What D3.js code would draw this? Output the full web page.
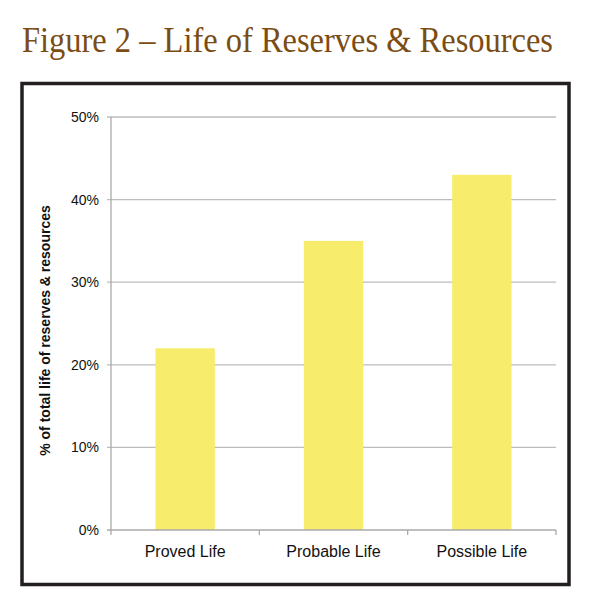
<!DOCTYPE html>
<html>
<head>
<meta charset="utf-8">
<script src="https://cdn.jsdelivr.net/npm/d3@7"></script>
<style>
    body { margin: 0; background: #fff; }
    svg { display: block; }
</style>
</head>
<body>
<div id="chart"></div>
<script>
// chart data
const categories = ["Proved Life", "Probable Life", "Possible Life"];
const lifeShare = [22, 35, 43];          // % of total life of reserves & resources
const yTicks = [0, 10, 20, 30, 40, 50];

const titleText = "Figure 2 \u2013 Life of Reserves & Resources";
const yTitle = "% of total life of reserves & resources";

const W = 600, H = 602;
const margin = {top: 117, right: 44, bottom: 72, left: 111};
const width = W - margin.left - margin.right;
const height = H - margin.top - margin.bottom;

const svg = d3.select("#chart").append("svg")
    .attr("width", W)
    .attr("height", H);

// title (the original face is a narrow old-style serif, so squeeze to fit)
svg.append("text")
    .attr("x", 22)
    .attr("y", 52)
    .attr("font-family", "'Liberation Serif', 'DejaVu Serif', serif")
    .attr("font-size", 35)
    .attr("fill", "#7b4c13")
    .attr("textLength", 531)
    .attr("lengthAdjust", "spacingAndGlyphs")
    .text(titleText);

// frame around the chart
svg.append("rect")
    .attr("x", 22)
    .attr("y", 83.5)
    .attr("width", 547)
    .attr("height", 501)
    .attr("fill", "none")
    .attr("stroke", "#231f20")
    .attr("stroke-width", 3.5);

const g = svg.append("g")
    .attr("transform", `translate(${margin.left},${margin.top})`);

const y = d3.scaleLinear().domain([0, 50]).range([height, 0]);
const x = d3.scaleBand().domain(categories).range([0, width])
    .paddingInner(0.6).paddingOuter(0.3);

// gridlines + y ticks (ticks poke out a bit to the left)
g.selectAll(".grid").data(yTicks.slice(1))
    .enter().append("line")
    .attr("class", "grid")
    .attr("x1", -4).attr("x2", width)
    .attr("y1", d => y(d)).attr("y2", d => y(d))
    .attr("stroke", "#bcbcbc")
    .attr("stroke-width", 1.3);

g.selectAll(".ylab").data(yTicks)
    .enter().append("text")
    .attr("class", "ylab")
    .attr("x", -12)
    .attr("y", d => y(d))
    .attr("dy", "0.36em")
    .attr("text-anchor", "end")
    .attr("font-family", "Arial, 'Liberation Sans', sans-serif")
    .attr("font-size", 14)
    .attr("fill", "#111")
    .text(d => d + "%");

// bars
g.selectAll(".bar").data(lifeShare)
    .enter().append("rect")
    .attr("class", "bar")
    .attr("x", (d, i) => x(categories[i]))
    .attr("y", d => y(d))
    .attr("width", x.bandwidth())
    .attr("height", d => height - y(d))
    .attr("fill", "#f7ec6c");

// y axis line
g.append("line")
    .attr("x1", 0).attr("x2", 0)
    .attr("y1", 0).attr("y2", height)
    .attr("stroke", "#aaaaaa")
    .attr("stroke-width", 1.3);

// x axis line with ticks at category boundaries
g.append("line")
    .attr("x1", -4).attr("x2", width)
    .attr("y1", height).attr("y2", height)
    .attr("stroke", "#aaaaaa")
    .attr("stroke-width", 1.3);

const bounds = d3.range(categories.length + 1).map(i => i * width / categories.length);
g.selectAll(".xtick").data(bounds)
    .enter().append("line")
    .attr("class", "xtick")
    .attr("x1", d => d).attr("x2", d => d)
    .attr("y1", height).attr("y2", height + 5)
    .attr("stroke", "#aaaaaa")
    .attr("stroke-width", 1.3);

g.selectAll(".xlab").data(categories)
    .enter().append("text")
    .attr("class", "xlab")
    .attr("x", d => x(d) + x.bandwidth() / 2)
    .attr("y", height + 27)
    .attr("text-anchor", "middle")
    .attr("font-family", "Arial, 'Liberation Sans', sans-serif")
    .attr("font-size", 16)
    .attr("fill", "#111")
    .text(d => d);

// y axis title
svg.append("text")
    .attr("transform", `translate(50, ${margin.top + height * 0.5 + 7}) rotate(-90)`)
    .attr("text-anchor", "middle")
    .attr("font-family", "Arial, 'Liberation Sans', sans-serif")
    .attr("font-weight", "bold")
    .attr("font-size", 14)
    .attr("fill", "#111")
    .text(yTitle);
</script>
</body>
</html>
